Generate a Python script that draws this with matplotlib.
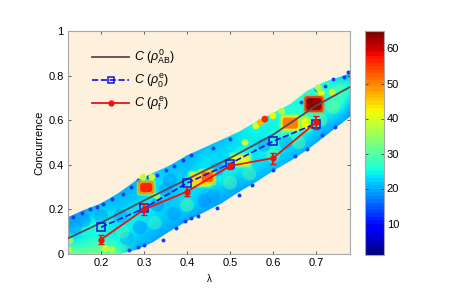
import numpy as np
import matplotlib
matplotlib.use('Agg')
import matplotlib.pyplot as plt
from matplotlib.lines import Line2D
from matplotlib.patches import FancyBboxPatch

plt.rcParams['font.family'] = ['Liberation Sans', 'DejaVu Sans']
plt.rcParams['mathtext.fontset'] = 'custom'
plt.rcParams['mathtext.rm'] = 'Liberation Sans'
plt.rcParams['mathtext.it'] = 'Liberation Sans:italic'

# measured curves
lam_theory = [0.123, 0.2, 0.3, 0.4, 0.5, 0.6, 0.7, 0.78]
c_theory = [0.07, 0.14, 0.24, 0.335, 0.43, 0.535, 0.665, 0.75]
lam_exp = [0.2, 0.3, 0.4, 0.5, 0.6, 0.7]
c_zero = [0.12, 0.205, 0.318, 0.405, 0.505, 0.585]
c_final = [0.065, 0.2, 0.28, 0.395, 0.43, 0.59]
c_final_err = [0.02, 0.025, 0.02, 0.015, 0.025, 0.03]

# density band: outline and values across it (low edge to high edge)
band_lam = [0.12, 0.16, 0.20, 0.24, 0.28, 0.32, 0.36, 0.40, 0.44, 0.48, 0.52, 0.56, 0.60, 0.64, 0.68, 0.72, 0.76, 0.78]
band_low = [0.0, 0.0, 0.0, 0.0, 0.02, 0.055, 0.105, 0.15, 0.19, 0.23, 0.28, 0.325, 0.375, 0.42, 0.47, 0.53, 0.59, 0.62]
band_up = [0.16, 0.195, 0.225, 0.27, 0.325, 0.36, 0.395, 0.44, 0.475, 0.51, 0.545, 0.59, 0.63, 0.67, 0.73, 0.77, 0.795, 0.81]
band_vals = [
    [34, 31, 33, 30, 20, 19, 19, 19, 19, 19, 19, 20, 20, 20, 20, 19, 19, 18],
    [28, 27, 29, 25, 22, 21, 21, 22, 21, 21, 21, 22, 22, 22, 22, 21, 22, 20],
    [22, 24, 25, 23, 24, 23, 21, 23, 22, 24, 24, 23, 25, 25, 26, 24, 26, 23],
    [21, 25, 27, 23, 23, 24, 21, 23, 23, 22, 27, 23, 26, 29, 27, 25, 28, 25],
    [20, 21, 23, 21, 21, 23, 22, 21, 23, 22, 23, 24, 24, 26, 25, 27, 28, 24],
    [18, 19, 20, 20, 20, 22, 21, 20, 21, 21, 23, 25, 26, 25, 26, 26, 22, 19],
]

# cool and pale blotches inside the band
blot_lam = [0.14, 0.16, 0.245, 0.26, 0.29, 0.33, 0.35, 0.37, 0.4, 0.36, 0.46, 0.47, 0.5, 0.545, 0.58, 0.6, 0.63, 0.66, 0.71, 0.74, 0.2, 0.25, 0.325, 0.44]
blot_c = [0.12, 0.15, 0.17, 0.07, 0.12, 0.22, 0.29, 0.18, 0.22, 0.33, 0.26, 0.38, 0.32, 0.36, 0.49, 0.44, 0.5, 0.5, 0.6, 0.66, 0.17, 0.1, 0.14, 0.24]
blot_val = [18, 18, 18, 19, 17, 17, 18, 18, 30, 18, 18, 18, 30, 30, 18, 31, 18, 31, 32, 32, 18, 29, 28, 17]

# hot patches in the density map
hot_lam = [0.305, 0.43, 0.447, 0.525, 0.64, 0.675, 0.695]
hot_c = [0.298, 0.335, 0.345, 0.42, 0.587, 0.585, 0.672]
hot_val = [56, 44, 52, 40, 50, 41, 63]
hot_w = [12, 18, 11, 17, 15, 7, 15]
hot_h = [9, 11, 10, 10, 11, 11, 12]

# small warm spots along the band
spot_lam = [0.123, 0.128, 0.21, 0.225, 0.298, 0.318, 0.33, 0.535, 0.56, 0.57, 0.581, 0.60, 0.62, 0.712, 0.738, 0.705]
spot_c = [0.02, 0.06, 0.025, 0.02, 0.345, 0.345, 0.26, 0.5, 0.575, 0.59, 0.605, 0.62, 0.64, 0.72, 0.725, 0.745]
spot_val = [38, 33, 38, 36, 38, 38, 33, 38, 40, 46, 56, 42, 36, 40, 38, 36]

# dark blue stray points on the band edge
edge_lam = [0.135, 0.155, 0.175, 0.19, 0.205, 0.225, 0.25, 0.27, 0.285, 0.31, 0.33, 0.35, 0.37, 0.39, 0.41, 0.46, 0.5, 0.265, 0.285, 0.3, 0.345, 0.375, 0.395, 0.41, 0.425, 0.47, 0.52, 0.55, 0.6, 0.65, 0.68, 0.715, 0.745, 0.775, 0.765, 0.74, 0.72, 0.7, 0.665]
edge_c = [0.165, 0.185, 0.2, 0.21, 0.225, 0.245, 0.27, 0.3, 0.33, 0.345, 0.355, 0.375, 0.395, 0.42, 0.445, 0.475, 0.515, 0.018, 0.03, 0.04, 0.065, 0.115, 0.15, 0.16, 0.17, 0.205, 0.265, 0.31, 0.375, 0.44, 0.47, 0.535, 0.57, 0.815, 0.795, 0.785, 0.755, 0.74, 0.68]

lam_ticks = [0.2, 0.3, 0.4, 0.5, 0.6, 0.7]
c_ticks = [0, 0.2, 0.4, 0.6, 0.8, 1]
c_ticklabels = ['0', '0.2', '0.4', '0.6', '0.8', '1']
cbar_ticks = [10, 20, 30, 40, 50, 60]

W, H = 457, 302
fig = plt.figure(figsize=(W / 100, H / 100), dpi=100)
ax = fig.add_axes([68 / W, 1 - 254 / H, 282 / W, 223 / H])
cax = fig.add_axes([365 / W, 1 - 255 / H, 19 / W, 224 / H])

cmap = plt.get_cmap('jet', 64)
norm = plt.Normalize(1, 65)
ax.set_facecolor('#fdf0dc')

vals = np.array(band_vals, dtype=float)
frac = np.linspace(0, 1, vals.shape[0])
xx = np.tile(band_lam, (len(frac), 1))
yy = np.array([np.array(band_low) + f * (np.array(band_up) - np.array(band_low)) for f in frac])
mesh = ax.pcolormesh(xx, yy, vals, shading='gouraud', cmap=cmap, norm=norm, zorder=1)

ax.scatter(blot_lam, blot_c, s=100, c=blot_val, cmap=cmap, norm=norm, linewidths=0, alpha=0.45, zorder=1.2)
ax.scatter(edge_lam, edge_c, s=8, c='#1a3cf0', linewidths=0, zorder=1.5)
ax.scatter(spot_lam, spot_c, s=24, c=spot_val, cmap=cmap, norm=norm, linewidths=0, zorder=2)

# soft halo then core for each hot patch
for px_grow, shift, al, z in [(7, -14, 0.5, 2.1), (4, -7, 0.85, 2.2), (0, 0, 1, 2.3)]:
    for lam, c, v, w, h in zip(hot_lam, hot_c, hot_val, hot_w, hot_h):
        dx = (w + px_grow) / 2 / 430
        dy = (h + px_grow) / 2 / 223
        ax.add_patch(FancyBboxPatch((lam - dx, c - dy), 2 * dx, 2 * dy, boxstyle='round,pad=0,rounding_size=0.006',
                                    mutation_aspect=1.9, color=cmap(norm(v + shift)), alpha=al,
                                    linewidth=0, zorder=z))

ax.plot(lam_theory, c_theory, color='#5b4a52', lw=1.3, zorder=3)
ax.plot(lam_exp, c_zero, color='#1010e0', lw=1.2, ls='--', marker='s', ms=5.5, mfc='none', mew=1.1, zorder=4)
ax.errorbar(lam_exp, c_final, yerr=c_final_err, color='#f01010', lw=1.3, marker='o', ms=3.5, capsize=2,
            elinewidth=1.3, zorder=5)

handles = [
    Line2D([], [], color='#5b4a52', lw=1.3),
    Line2D([], [], color='#1010e0', lw=1.2, ls='--', marker='s', ms=5, mfc='none', mew=1.1),
    Line2D([], [], color='#f01010', lw=1.3, marker='o', ms=3.5),
]
labels = [r'$C$ ($\rho^{0}_{\mathrm{AB}}$)', r'$C$ ($\rho^{\mathrm{e}}_{0}$)', r'$C$ ($\rho^{\mathrm{e}}_{\mathrm{f}}$)']
ax.legend(handles, labels, loc='upper left', bbox_to_anchor=(0.085, 0.925), frameon=False, fontsize=9,
          handlelength=3.0, labelspacing=0.45, handletextpad=0.4, borderpad=0, borderaxespad=0)

ax.set_xlim(0.123, 0.779)
ax.set_ylim(0, 1)
ax.set_xticks(lam_ticks)
ax.set_xticklabels([str(t) for t in lam_ticks])
ax.set_yticks(c_ticks)
ax.set_yticklabels(c_ticklabels)
ax.tick_params(direction='in', length=2, width=0.5, labelsize=8, top=True, right=True, pad=3, color='#222222')
ax.set_xlabel('λ', fontsize=7, labelpad=4)
ax.set_ylabel('Concurrence', fontsize=8, labelpad=3)
for s in ax.spines.values():
    s.set_color('#a8a8a8')
    s.set_linewidth(0.8)

cb = fig.colorbar(mesh, cax=cax, ticks=cbar_ticks)
cb.ax.tick_params(direction='in', length=2, width=0.5, labelsize=8, left=True, right=True, pad=2, color='#222222')
cb.outline.set_edgecolor('#a8a8a8')
cb.outline.set_linewidth(0.8)

fig.savefig('out.png', dpi=100)
